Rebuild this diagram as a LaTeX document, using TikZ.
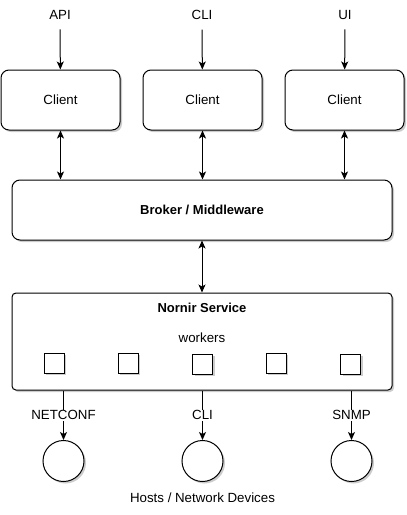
\documentclass[tikz,border=0pt]{standalone}
\usepackage{fontspec}
\setmainfont{Liberation Sans}
\usetikzlibrary{arrows.meta,shadows}

\begin{document}
\begin{tikzpicture}[x=1pt, y=-1pt, line width=1pt,
    font=\fontsize{13.3}{15}\selectfont,
    >={Stealth[length=8pt, width=7pt, inset=2pt]},
    shade/.style={drop shadow={shadow xshift=2pt, shadow yshift=-2pt, opacity=.2, fill=black}},
    client/.style={draw, fill=white, shade, rounded corners=8pt, minimum width=119pt, minimum height=60pt, inner sep=0pt},
    layer/.style={draw, fill=white, shade, minimum width=380pt, inner sep=0pt},
    worker/.style={draw, fill=white, shade, minimum size=20pt, inner sep=0pt},
    host/.style={draw, fill=white, shade, circle, minimum size=41pt, inner sep=0pt},
    proto/.style={fill=white, inner sep=1pt}]
    \useasboundingbox (0, 0) rectangle (407, 515);

    % entry points and clients
    \node (api) at (60, 15) {API};
    \node (cli) at (202, 15) {CLI};
    \node (ui) at (345, 15) {UI};

    \node[client] (c1) at (60.5, 100) {Client};
    \node[client] (c2) at (202.5, 100) {Client};
    \node[client] (c3) at (344.5, 100) {Client};

    \draw[->, shorten <=6pt] (api) -- (c1);
    \draw[->, shorten <=6pt] (cli) -- (c2);
    \draw[->, shorten <=6pt] (ui) -- (c3);

    % broker
    \node[layer, rounded corners=8pt, minimum height=60pt, font=\fontsize{13}{15}\selectfont\bfseries] (broker) at (202, 210) {Broker / Middleware};

    \draw[<->] (c1) -- (c1 |- broker.north);
    \draw[<->] (c2) -- (c2 |- broker.north);
    \draw[<->] (c3) -- (c3 |- broker.north);

    % nornir service with workers
    \node[layer, rounded corners=4pt, minimum height=97pt] (nornir) at (202, 341.5) {};
    \node[font=\fontsize{13}{15}\selectfont\bfseries] (title) at (202, 308) {Nornir Service};
    \node (workers) at (202, 338) {workers};

    \node[worker] (w1) at (54, 363) {};
    \node[worker] (w2) at (128, 363) {};
    \node[worker] (w3) at (202.5, 364) {};
    \node[worker] (w4) at (276, 363) {};
    \node[worker] (w5) at (350.5, 364) {};

    \draw[<->] (broker) -- (nornir);

    % hosts
    \node[host] (h1) at (63.5, 461) {};
    \node[host] (h2) at (202.5, 461) {};
    \node[host] (h3) at (351.5, 461) {};

    \draw[->] (nornir.south -| h1) -- node[proto] {NETCONF} (h1);
    \draw[->] (nornir.south -| h2) -- node[proto] {CLI} (h2);
    \draw[->] (nornir.south -| h3) -- node[proto] {SNMP} (h3);

    \node (hosts) at (202.5, 498) {Hosts / Network Devices};
\end{tikzpicture}
\end{document}
